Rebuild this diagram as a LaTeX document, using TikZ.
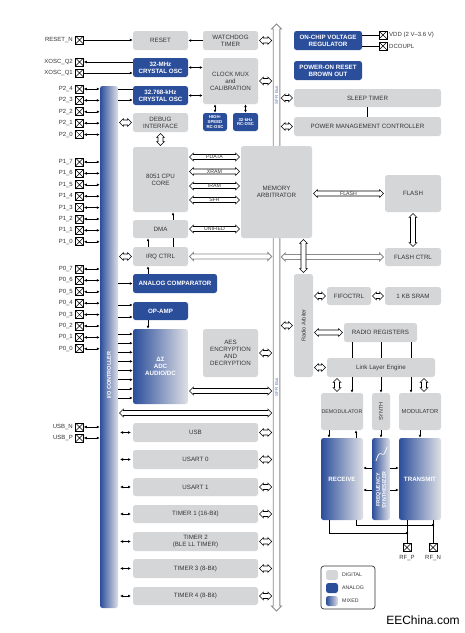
\documentclass[tikz,border=0pt]{standalone}
\usepackage{fontspec}
\setmainfont{Liberation Sans}
\usetikzlibrary{arrows.meta,calc}
\definecolor{digc}{HTML}{D5D6D8}
\definecolor{anac}{HTML}{2B4E9B}
\definecolor{mixc}{HTML}{DFE0E5}
\definecolor{txtc}{HTML}{353535}
\definecolor{sfrc}{HTML}{5577B8}
\definecolor{busc}{HTML}{8A8A8A}

\newcommand\hwd{2.5pt}
\newcommand\hhd{4pt}
\newcommand\hld{4pt}
\newcommand\hgp{1.2pt}

\newcommand\hollowH[3][hollow]{%
 \path[#1] let \p1=#2, \p2=#3 in
 (\x1+\hgp,\y1) -- ++(\hld,\hhd) -- ++(0pt,\hwd-\hhd) -- (\x2-\hgp-\hld,\y1+\hwd) -- ++(0pt,\hhd-\hwd) -- (\x2-\hgp,\y1) -- ++(-\hld,-\hhd) -- ++(0pt,\hhd-\hwd) -- (\x1+\hgp+\hld,\y1-\hwd) -- ++(0pt,\hwd-\hhd) -- cycle;}
\newcommand\hollowV[3][hollow]{%
 \path[#1] let \p1=#2, \p2=#3 in
 (\x1,\y1-\hgp) -- ++(\hhd,-\hld) -- ++(\hwd-\hhd,0pt) -- (\x1+\hwd,\y2+\hgp+\hld) -- ++(\hhd-\hwd,0pt) -- (\x1,\y2+\hgp) -- ++(-\hhd,\hld) -- ++(\hhd-\hwd,0pt) -- (\x1-\hwd,\y1-\hgp-\hld) -- ++(\hwd-\hhd,0pt) -- cycle;}
\newcommand\blk[7]{\node[#1, minimum width={#5-#3}, minimum height={#6-#4}] (#2) at ({(#3+#5)/2},{(#4+#6)/2}) {#7};}

\tikzset{
 blkbase/.style={rounded corners=2.5pt, inner sep=0pt, align=center},
 dblk/.style={blkbase, fill=digc, text=txtc, font=\fontsize{6.2}{7}\selectfont},
 ablk/.style={blkbase, fill=anac, text=white, font=\bfseries\fontsize{6.2}{7}\selectfont},
 sblk/.style={blkbase, fill=anac, text=white, font=\bfseries\fontsize{4.3}{4.8}\selectfont},
 mblk/.style={blkbase, left color=anac, right color=mixc, text=white, font=\bfseries\fontsize{6.2}{7}\selectfont},
 conn/.style={line width=0.6pt},
 hollow/.style={draw=black, fill=white, line width=0.55pt},
 hollowgray/.style={draw=busc, fill=white, line width=0.9pt},
 busline/.style={draw=busc, fill=white, line width=0.9pt},
 pinbox/.style={draw, line width=0.7pt, minimum size=8pt, inner sep=0pt,
   path picture={\draw[line width=0.5pt] (path picture bounding box.south west) -- (path picture bounding box.north east) (path picture bounding box.north west) -- (path picture bounding box.south east);}},
 pinlbl/.style={anchor=east, inner sep=0pt, text=txtc, font=\fontsize{6}{7}\selectfont},
 buslbl/.style={inner sep=0pt, text=txtc, font=\fontsize{5.2}{6}\selectfont},
 rotlbl/.style={rotate=90, inner sep=0pt, align=center},
 lgdlbl/.style={anchor=west, inner sep=0pt, text=txtc, font=\fontsize{5.2}{6}\selectfont},
}

\begin{document}
\begin{tikzpicture}[x=1pt,y=-1pt,>={Latex[length=3pt,width=2.8pt]}]
\useasboundingbox[fill=white] (0,0) rectangle (465,633);

% helper coordinates
\coordinate (busL) at (273,0);
\coordinate (busR) at (280,0);
\coordinate (ioR) at (120,0);
\coordinate (blkL) at (131,0);
\coordinate (x148) at (148,0);
\coordinate (x173) at (173,0);
\coordinate (x215) at (215,0);
\coordinate (x246) at (245.5,0);
\coordinate (x367) at (367,0);
\coordinate (x329) at (329,0);
\coordinate (x337) at (337,0);
\coordinate (x352) at (352,0);
\coordinate (x356) at (356,0);
\coordinate (x381) at (381,0);
\coordinate (x411) at (411,0);
\coordinate (x420) at (420,0);
\coordinate (x424) at (424,0);

% SFR bus
\coordinate (sfrtop) at (276.5,24);
\coordinate (sfrbot) at (276.5,611);
\begin{scope}
\renewcommand\hwd{3.3pt}\renewcommand\hhd{5pt}\renewcommand\hld{5pt}\renewcommand\hgp{0pt}
\hollowV[busline]{(sfrtop)}{(sfrbot)}
\end{scope}
\node[rotlbl, text=sfrc, font=\fontsize{4.5}{5}\selectfont] (sfr1) at (276.5,95) {SFR Bus};
\node[rotlbl, text=sfrc, font=\fontsize{4.5}{5}\selectfont] (sfr2) at (276.5,387) {SFR Bus};

% I/O controller bar
\blk{mblk}{iobar}{100}{86}{118}{608}{}
\node[rotlbl, text=white, font=\bfseries\fontsize{5.5}{6}\selectfont] (iolbl) at (109,375) {I/O CONTROLLER};

% blocks
\blk{dblk}{reset}{133}{31}{188}{50}{RESET}
\blk{dblk}{wdt}{203}{31}{258}{50}{WATCHDOG\\TIMER}
\blk{ablk}{xoscm}{133}{58}{188}{77}{32-MHz\\CRYSTAL OSC}
\blk{ablk}{xosck}{133}{86}{188}{105}{32.768-kHz\\CRYSTAL OSC}
\blk{dblk}{clk}{203}{58}{258}{104}{CLOCK MUX\\and\\CALIBRATION}
\blk{sblk}{hsrc}{203}{113}{227}{131}{HIGH-\\SPEED\\RC-OSC}
\blk{sblk}{rck}{233}{113}{258}{131}{32-kHz\\RC-OSC}
\blk{dblk}{debug}{133}{113}{188}{132}{DEBUG\\INTERFACE}
\blk{dblk}{cpu}{133}{147}{188}{212}{8051 CPU\\CORE}
\blk{dblk}{dma}{133}{220}{188}{238}{DMA}
\blk{dblk}{irq}{133}{247}{188}{266}{IRQ CTRL}
\blk{ablk}{acomp}{133}{274}{217}{293}{ANALOG COMPARATOR}
\blk{ablk}{opamp}{133}{302}{188}{320}{OP-AMP}
\blk{mblk}{adc}{133}{329}{188}{404}{ΔΣ\\ADC\\AUDIO/DC}
\blk{dblk}{aes}{203}{329}{258}{377}{AES\\ENCRYPTION\\AND\\DECRYPTION}
\blk{dblk}{usb}{133}{423}{258}{442}{USB}
\blk{dblk}{usart0}{133}{450}{258}{469}{USART 0}
\blk{dblk}{usart1}{133}{478}{258}{496}{USART 1}
\blk{dblk}{t1}{133}{505}{258}{523}{TIMER 1 (16-Bit)}
\blk{dblk}{t2}{133}{532}{258}{551}{TIMER 2\\(BLE LL TIMER)}
\blk{dblk}{t3}{133}{559}{258}{578}{TIMER 3 (8-Bit)}
\blk{dblk}{t4}{133}{587}{258}{605}{TIMER 4 (8-Bit)}
\blk{dblk}{mem}{241}{146}{312}{238}{MEMORY\\ARBITRATOR}
\blk{ablk}{vreg}{294}{31}{362}{50}{ON-CHIP VOLTAGE\\REGULATOR}
\blk{ablk}{por}{294}{61}{362}{80}{POWER-ON RESET\\BROWN OUT}
\blk{dblk}{sleep}{294}{89}{441}{107}{SLEEP TIMER}
\blk{dblk}{pmc}{294}{117}{441}{136}{POWER MANAGEMENT CONTROLLER}
\blk{dblk}{flash}{385}{175}{441}{212}{FLASH}
\blk{dblk}{flashctrl}{385}{248}{441}{266}{FLASH CTRL}
\blk{dblk}{rarb}{294}{274}{313}{377}{}
\node[rotlbl, text=txtc, font=\fontsize{5.6}{6}\selectfont] (rarbl) at (rarb.center) {Radio Arbiter};
\blk{dblk}{fifo}{327}{287}{371}{305}{FIFOCTRL}
\blk{dblk}{sram}{385}{287}{441}{305}{1 KB SRAM}
\blk{dblk}{rreg}{344}{323}{417}{342}{RADIO REGISTERS}
\blk{dblk}{demod}{321}{393}{363}{430}{\fontsize{5.3}{6}\selectfont DEMODULATOR}
\blk{dblk}{synth}{372}{393}{390}{430}{}
\node[rotlbl, text=txtc, font=\fontsize{5.5}{6}\selectfont] (synthl) at (synth.center) {SYNTH};
\blk{dblk}{mod}{399}{393}{441}{430}{\fontsize{5.8}{6}\selectfont MODULATOR}
\blk{mblk}{rx}{321}{438}{363}{520}{RECEIVE}
\blk{mblk}{fs}{372}{438}{390}{520}{}
\node[rotlbl, text=white, font=\bfseries\fontsize{5.3}{6}\selectfont] (fsl) at (381,490) {FREQUENCY\\SYNTHESIZER};
\draw[white, line width=0.7pt] plot[domain=0:1, samples=25] ({376+11*\x},{461-14*\x-3*sin(360*\x)});
\blk{mblk}{tx}{399}{438}{441}{520}{TRANSMIT}

% link layer engine lines (drawn before LLE node so it sits above)
\blk{dblk}{lle}{327}{358}{435}{377}{Link Layer Engine}

% pins
\node[pinbox] (rstpin) at (79.5,40) {};
\node[pinlbl] (lrst) at (73,40) {RESET\_N};
\node[pinbox] (q2) at (79.5,62) {};
\node[pinlbl] (lq2) at (73,62) {XOSC\_Q2};
\node[pinbox] (q1) at (79.5,73) {};
\node[pinlbl] (lq1) at (73,73) {XOSC\_Q1};
\foreach \i in {0,...,4}{
  \pgfmathsetmacro\yy{89+11.4*\i}
  \pgfmathtruncatemacro\k{4-\i}
  \node[pinbox] (p2\k) at (79.5,\yy) {};
  \node[pinlbl] (lp2\k) at (73,\yy) {P2\_\k};
  \draw[conn,<->] (p2\k.east) -- (iobar.west |- p2\k.east);
}
\foreach \i in {0,...,7}{
  \pgfmathsetmacro\yy{162+11.4*\i}
  \pgfmathtruncatemacro\k{7-\i}
  \node[pinbox] (p1\k) at (79.5,\yy) {};
  \node[pinlbl] (lp1\k) at (73,\yy) {P1\_\k};
  \draw[conn,<->] (p1\k.east) -- (iobar.west |- p1\k.east);
}
\foreach \i in {0,...,7}{
  \pgfmathsetmacro\yy{269+11.4*\i}
  \pgfmathtruncatemacro\k{7-\i}
  \node[pinbox] (p0\k) at (79.5,\yy) {};
  \node[pinlbl] (lp0\k) at (73,\yy) {P0\_\k};
  \draw[conn,<->] (p0\k.east) -- (iobar.west |- p0\k.east);
}
\node[pinbox] (usbn) at (79.5,427) {};
\node[pinlbl] (lusbn) at (73,427) {USB\_N};
\draw[conn,<->] (usbn.east) -- (iobar.west |- usbn.east);
\node[pinbox] (usbp) at (79.5,438) {};
\node[pinlbl] (lusbp) at (73,438) {USB\_P};
\draw[conn,<->] (usbp.east) -- (iobar.west |- usbp.east);

\node[pinbox] (vdd) at (383,35) {};
\node[pinlbl, anchor=west] (lvdd) at (389,35) {VDD (2 V–3.6 V)};
\node[pinbox] (dcp) at (383,46) {};
\node[pinlbl, anchor=west] (ldcp) at (389,46) {DCOUPL};
\node[pinbox] (rfp) at (407,547.5) {};
\node[pinlbl, anchor=center] (lrfp) at (407,558) {RF\_P};
\node[pinbox] (rfn) at (433,547.5) {};
\node[pinlbl, anchor=center] (lrfn) at (433,558) {RF\_N};

% solid connectors
\draw[conn,->] (rstpin.east) -- (reset.west |- rstpin.east);
\draw[conn,->] (wdt.west) -- (reset.east);
\draw[conn,->] (xoscm.west |- q2.east) -- (q2.east);
\draw[conn,->] (q1.east) -- (xoscm.west |- q1.east);
\draw[conn] (iobar.east |- 0,89) -- (xosck.west |- 0,89);
\draw[conn,->] (iobar.east |- 0,100) -- (xosck.west |- 0,100);
\draw[conn,<->] (xoscm.east) -- (clk.west |- xoscm.east);
\draw[conn,<->] (xosck.east) -- (clk.west |- xosck.east);
\draw[conn,<->] (x215 |- clk.south) -- (x215 |- hsrc.north);
\draw[conn,<->] (x246 |- clk.south) -- (x246 |- rck.north);
\draw[conn,->] (x173 |- dma.north) -- (x173 |- cpu.south);
\draw[conn] (x173 |- irq.north) -- (x173 |- dma.south);
\draw[conn,->] (x148 |- irq.north) -- (x148 |- dma.south);
\draw[conn,->] (x148 |- acomp.north) -- (x148 |- irq.south);
\draw[conn,->] (iobar.east |- acomp.west) -- (acomp.west);
\draw[conn,->] (iobar.east |- 0,305) -- (opamp.west |- 0,305);
\draw[conn,->] (iobar.east |- 0,317) -- (opamp.west |- 0,317);
\draw[conn,->] (x148 |- opamp.south) -- (x148 |- adc.north);
\foreach \i in {0,...,7}{
  \pgfmathsetmacro\yy{334+9.14*\i}
  \draw[conn,->] (iobar.east |- 0,\yy) -- (adc.west |- 0,\yy);
}
\draw[conn] (vreg.east |- vdd.west) -- (vdd.west);
\draw[conn] (vreg.east |- dcp.west) -- (dcp.west);
\draw[conn] (x367 |- sleep.south) -- (x367 |- pmc.north);
\draw[conn] (x352 |- rreg.south) -- (x352 |- lle.north);
\draw[conn] (x381 |- rreg.south) -- (x381 |- lle.north);
\draw[conn] (x411 |- rreg.south) -- (x411 |- lle.north);
\draw[conn,->] (x352 |- lle.south) -- (x352 |- demod.north);
\draw[conn,->] (x381 |- lle.south) -- (x381 |- synth.north);
\draw[conn,->] (x411 |- lle.south) -- (x411 |- mod.north);
\draw[conn,->] (x329 |- demod.south) -- (x329 |- rx.north);
\draw[conn,->] (x356 |- rx.north) -- (x356 |- demod.south);
\draw[conn,->] (x381 |- synth.south) -- (x381 |- fs.north);
\draw[conn,->] (x420 |- mod.south) -- (x420 |- tx.north);
\draw[conn,->] (fs.west |- 0,468) -- (rx.east |- 0,468);
\draw[conn,->] (fs.west |- 0,490) -- (rx.east |- 0,490);
\draw[conn,->] (fs.east |- 0,468) -- (tx.west |- 0,468);
\draw[conn,->] (fs.east |- 0,490) -- (tx.west |- 0,490);
\coordinate (j1) at (407,533);
\coordinate (j2) at (433,525);
\draw[conn] (x329 |- rx.south) |- (j1);
\draw[conn] (x356 |- rx.south) |- (j2);
\draw[conn] (rfp.north |- tx.south) -- (rfp.north);
\draw[conn] (rfn.north |- tx.south) -- (rfn.north);
\fill (j1) circle (1.3pt);
\fill (j2) circle (1.3pt);
\foreach \nm in {usb,usart0,usart1,t1,t2,t3,t4}{
  \draw[conn,<->] (ioR |- \nm.west) -- (blkL |- \nm.west);
  \hollowH{(\nm.east)}{(busL |- \nm.east)}
}

% hollow bus arrows
\hollowH{(iobar.east |- debug.west)}{(debug.west)}
\hollowV{(debug.south)}{(cpu.north)}
\hollowH{(iobar.east |- irq.west)}{(irq.west)}
\hollowH[hollowgray]{(irq.east)}{(busL |- irq.east)}
\hollowH[hollowgray]{(busR |- flashctrl.west)}{(flashctrl.west)}
\hollowH{(cpu.east |- 0,157)}{(mem.west |- 0,157)}
\hollowH{(cpu.east |- 0,171.5)}{(mem.west |- 0,171.5)}
\hollowH{(cpu.east |- 0,186)}{(mem.west |- 0,186)}
\hollowH{(cpu.east |- 0,200)}{(mem.west |- 0,200)}
\hollowH{(dma.east)}{(mem.west |- dma.east)}
\node[buslbl] (lpdata) at (214.5,157) {PDATA};
\node[buslbl] (lxram) at (214.5,171.5) {XRAM};
\node[buslbl] (liram) at (214.5,186) {IRAM};
\node[buslbl] (lsfr) at (214.5,200) {SFR};
\node[buslbl] (lunif) at (214.5,229) {UNIFIED};
\hollowH{(mem.east |- flash.west)}{(flash.west)}
\node[buslbl] (lflash) at (348.5,193.5) {FLASH};
\hollowV{(flash.south)}{(flashctrl.north)}
\hollowV{(rarb.north |- mem.south)}{(rarb.north)}
\hollowH{(wdt.east)}{(busL |- wdt.east)}
\hollowH{(clk.east)}{(busL |- clk.east)}
\hollowH{(busR |- sleep.west)}{(sleep.west)}
\hollowH{(busR |- pmc.west)}{(pmc.west)}
\hollowH{(busR |- rarb.west)}{(rarb.west)}
\hollowH{(aes.east)}{(busL |- aes.east)}
\hollowH{(adc.east |- 0,391)}{(busL |- 0,391)}
\hollowH{(iobar.east |- 0,413)}{(busL |- 0,413)}
\hollowH{(rarb.east |- fifo.west)}{(fifo.west)}
\hollowH{(fifo.east)}{(sram.west)}
\hollowH{(rarb.east |- rreg.west)}{(rreg.west)}
\hollowH{(rarb.east |- lle.west)}{(lle.west)}
\hollowV{(x337 |- lle.south)}{(x337 |- demod.north)}
\hollowV{(x424 |- lle.south)}{(x424 |- mod.north)}

% legend
\node[draw=txtc, line width=0.7pt, rounded corners=3pt, minimum width=54pt, minimum height=43pt, inner sep=0pt] (legend) at (348,587.5) {};
\blk{dblk}{lgdd}{326}{570}{338}{580}{}
\blk{ablk}{lgda}{326}{583}{338}{593}{}
\blk{mblk}{lgdm}{326}{596}{338}{606}{}
\node[lgdlbl] (lgddt) at (342,575) {DIGITAL};
\node[lgdlbl] (lgdat) at (342,588) {ANALOG};
\node[lgdlbl] (lgdmt) at (342,601) {MIXED};

\node[inner sep=0pt, font=\fontsize{12}{12}\selectfont] (wm) at (423,620) {EEChina.com};
\end{tikzpicture}
\end{document}
